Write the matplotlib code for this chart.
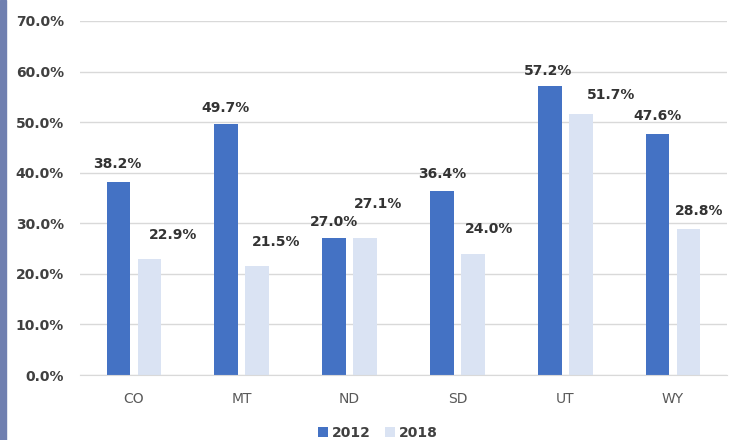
import numpy as np
import matplotlib.pyplot as plt
from matplotlib.patches import Rectangle

states = ['CO', 'MT', 'ND', 'SD', 'UT', 'WY']
v2012 = [38.2, 49.7, 27.0, 36.4, 57.2, 47.6]
v2018 = [22.9, 21.5, 27.1, 24.0, 51.7, 28.8]
yticks = [0, 10, 20, 30, 40, 50, 60, 70]

# label nudges in pixels (labels were moved by hand in the original)
dx12 = [-1, -1, 0, 0, -2, 0]
dy12 = [18, 16, 16, 17, 15, 18]
dx18 = [24, 19, 13, 16, 30, 11]
dy18 = [24, 24, 34, 25, 19, 18]

c12 = '#4472C4'
c18 = '#DAE3F3'
txt = '#404040'

fig = plt.figure(figsize=(7.35, 4.4), dpi=100)
ax = fig.add_axes([80/735, 65/440, 647/735, 354/440])

# left border strip
fig.patches.append(Rectangle((0, 0), 6/735, 1, transform=fig.transFigure,
                             color='#7080B0', zorder=0))

x = np.arange(len(states))
w = 0.22
off = 0.144
b1 = ax.bar(x - off, v2012, w, color=c12, label='2012', zorder=3)
b2 = ax.bar(x + off, v2018, w, color=c18, label='2018', zorder=3)

for i in range(len(states)):
    ax.annotate('%.1f%%' % v2012[i], (x[i] - off, v2012[i]),
                xytext=(dx12[i], dy12[i]), textcoords='offset pixels',
                ha='center', va='center', fontsize=10, fontweight='bold', color='#333333')
    ax.annotate('%.1f%%' % v2018[i], (x[i] + off, v2018[i]),
                xytext=(dx18[i], dy18[i]), textcoords='offset pixels',
                ha='center', va='center', fontsize=10, fontweight='bold', color='#333333')

ax.set_xlim(-0.5, len(states) - 0.5)
ax.set_ylim(0, 70)
ax.set_yticks(yticks)
ax.set_yticklabels(['%.1f%%' % t for t in yticks], fontsize=10, fontweight='bold', color=txt)
ax.set_xticks(x)
ax.set_xticklabels(states, fontsize=10, color='#595959')
ax.tick_params(axis='y', length=0, pad=11.5)
ax.tick_params(axis='x', length=0, pad=12)
ax.grid(axis='y', color='#D9D9D9', linewidth=1, zorder=0)
for s in ['top', 'right', 'left']:
    ax.spines[s].set_visible(False)
ax.spines['bottom'].set_color('#D9D9D9')
ax.spines['bottom'].set_zorder(4)

leg = fig.legend(handles=[b1, b2], loc='center', bbox_to_anchor=(378/735, 1 - 433/440),
                 ncol=2, frameon=False, handlelength=0.7, handleheight=0.7,
                 handletextpad=0.3, columnspacing=1.0, prop={'size': 10, 'weight': 'bold'})
for t in leg.get_texts():
    t.set_color(txt)

fig.savefig('out.png', dpi=100)
